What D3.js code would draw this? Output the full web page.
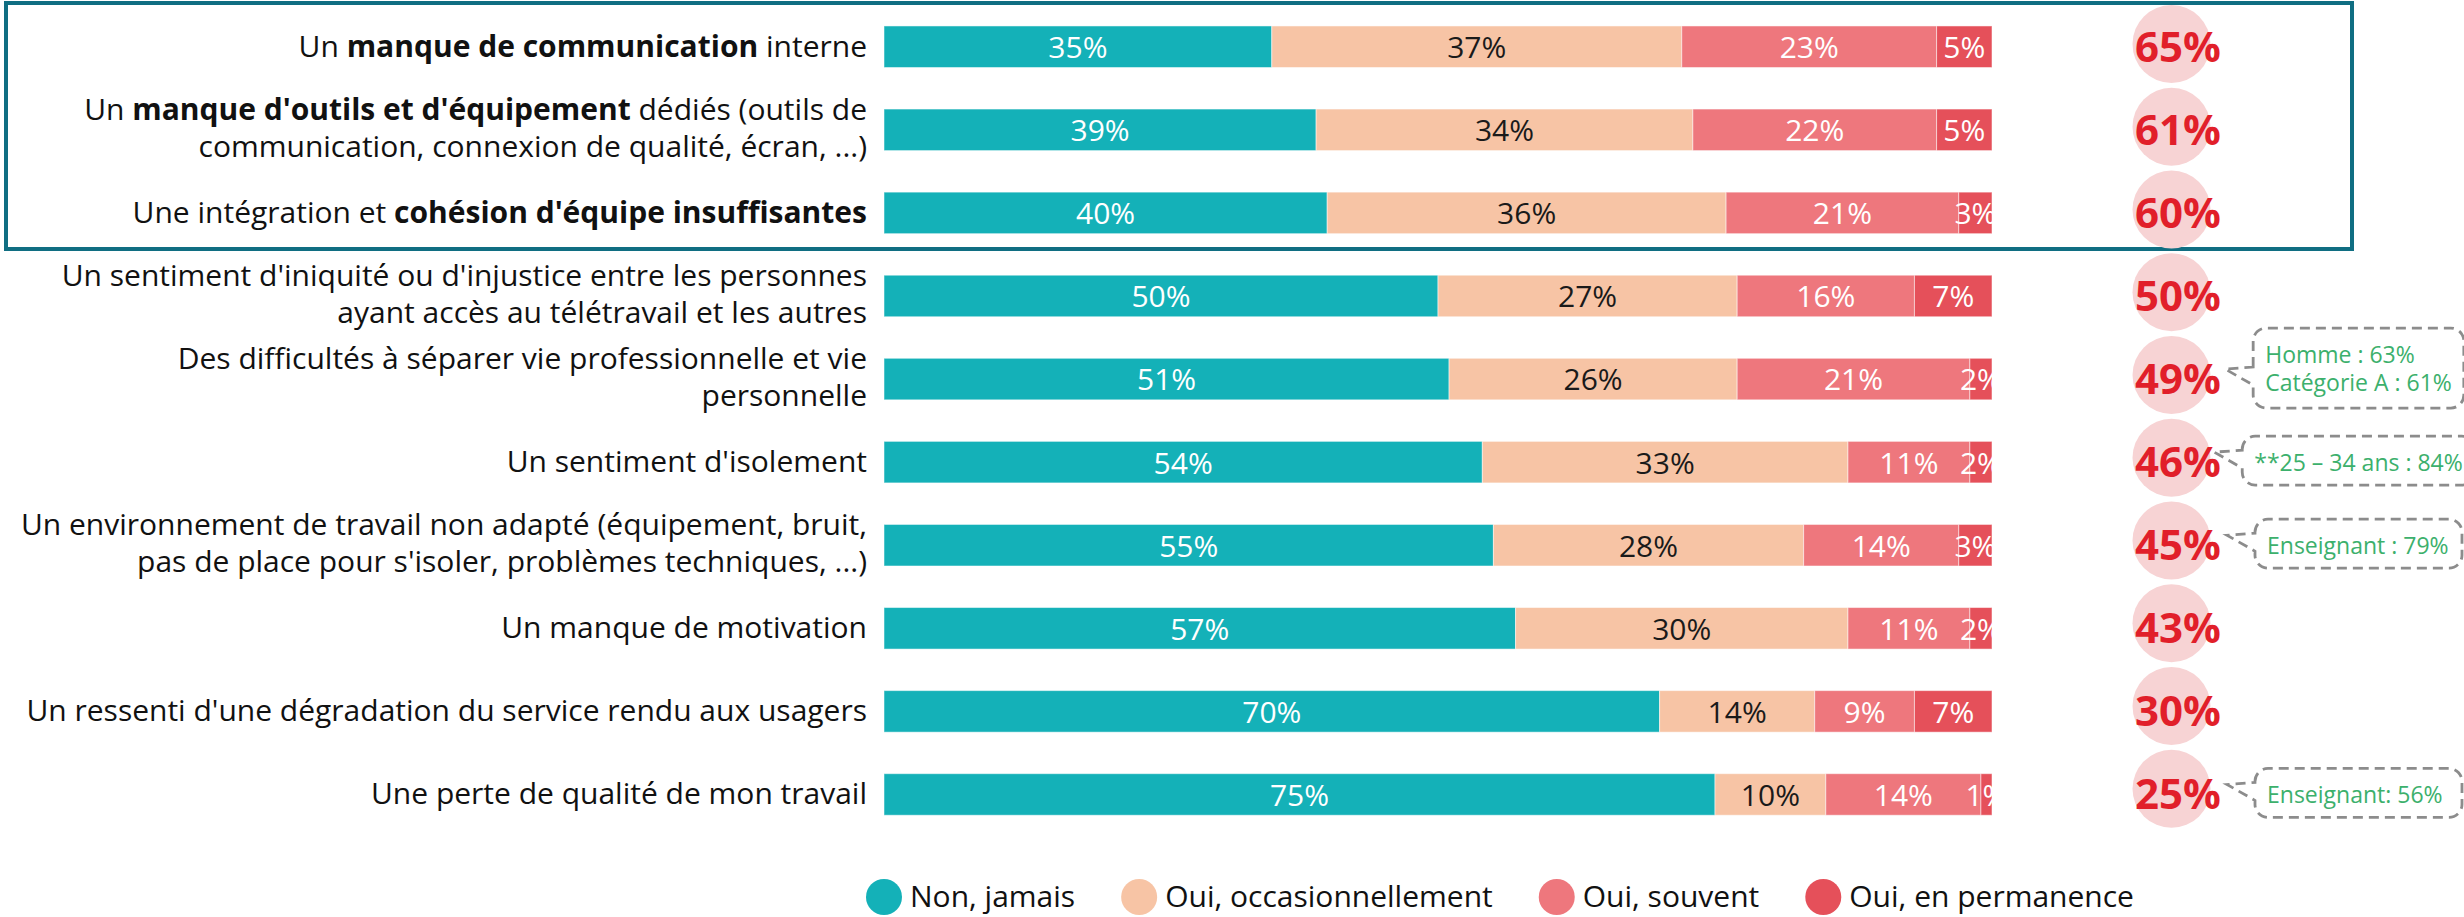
<!DOCTYPE html>
<html>
<head>
<meta charset="utf-8">
<script src="https://cdn.jsdelivr.net/npm/d3@7"></script>
<style>
  body { margin: 0; background: #fff; }
  svg { display: block; font-family: "Open Sans", "Noto Sans", sans-serif; }
</style>
</head>
<body>
<script>
// ---------- data ----------
// "**" marks bold parts, "\n" splits lines
var categories = [
  "Un **manque de communication** interne",
  "Un **manque d'outils et d'équipement** dédiés (outils de\ncommunication, connexion de qualité, écran, ...)",
  "Une intégration et **cohésion d'équipe insuffisantes**",
  "Un sentiment d'iniquité ou d'injustice entre les personnes\nayant accès au télétravail et les autres",
  "Des difficultés à séparer vie professionnelle et vie\npersonnelle",
  "Un sentiment d'isolement",
  "Un environnement de travail non adapté (équipement, bruit,\npas de place pour s'isoler, problèmes techniques, ...)",
  "Un manque de motivation",
  "Un ressenti d'une dégradation du service rendu aux usagers",
  "Une perte de qualité de mon travail"
]
var nonJamais         = [35, 39, 40, 50, 51, 54, 55, 57, 70, 75]
var occasionnellement = [37, 34, 36, 27, 26, 33, 28, 30, 14, 10]
var souvent           = [23, 22, 21, 16, 21, 11, 14, 11,  9, 14]
var permanence        = [ 5,  5,  3,  7,  2,  2,  3,  2,  7,  1]
var totalOui          = [65, 61, 60, 50, 49, 46, 45, 43, 30, 25]

var seriesKeys  = ["non", "occ", "souv", "perm"]
var seriesNames = ["Non, jamais", "Oui, occasionnellement", "Oui, souvent", "Oui, en permanence"]

// side notes (row index -> lines)
var calloutRows  = [4, 5, 6, 9]
var calloutTexts = [
  ["Homme : 63%", "Catégorie A : 61%"],
  ["**25 – 34 ans : 84%"],
  ["Enseignant : 79%"],
  ["Enseignant: 56%"]
]

// ---------- setup ----------
var width = 2464
var height = 917
var colors = ["#14b1b8", "#f7c4a5", "#ee777d", "#e5505a"]
var textColors = ["#ffffff", "#1a1a1a", "#ffffff", "#ffffff"]

var table = categories.map(function (c, i) {
  return { idx: i, non: nonJamais[i], occ: occasionnellement[i], souv: souvent[i], perm: permanence[i] }
})
var stacked = d3.stack().keys(seriesKeys)(table)

var x = d3.scaleLinear().domain([0, 100]).range([884, 1992])
var y = d3.scaleBand().domain(d3.range(categories.length)).range([5.2, 836])
          .paddingInner(0.5).paddingOuter(0.25)
var yCircle = d3.scalePoint().domain(d3.range(categories.length)).range([44, 788.8])
var color = d3.scaleOrdinal().domain(seriesKeys).range(colors)
var labelColor = d3.scaleOrdinal().domain(seriesKeys).range(textColors)

function mid(i) { return y(i) + y.bandwidth() / 2 }

var svg = d3.select('body').append('svg').attr('width', width).attr('height', height)

// frame around the first three rows
svg.append('rect').attr('x', 6).attr('y', 3).attr('width', 2346).attr('height', 246)
   .attr('fill', 'none').attr('stroke', '#106e82').attr('stroke-width', 4)

// ---------- bars ----------
var layers = svg.selectAll('g.layer').data(stacked).enter()
                .append('g').attr('class', 'layer').attr('fill', function (d) { return color(d.key) })

layers.selectAll('rect').data(function (d) { return d }).enter()
      .append('rect')
      .attr('x', function (d) { return x(d[0]) })
      .attr('y', function (d) { return y(d.data.idx) })
      .attr('width', function (d) { return x(d[1]) - x(d[0]) })
      .attr('height', y.bandwidth())
      .attr('stroke', '#ffffff').attr('stroke-opacity', 0.5).attr('stroke-width', 1)

svg.append('clipPath').attr('id', 'barclip').append('rect')
   .attr('x', x(0)).attr('y', 0).attr('width', x(100) - x(0)).attr('height', height)

var barLabels = svg.append('g').attr('clip-path', 'url(#barclip)')
stacked.forEach(function (layer) {
  barLabels.selectAll(null).data(layer).enter()
    .append('text')
    .attr('x', function (d) { return (x(d[0]) + x(d[1])) / 2 })
    .attr('y', function (d) { return mid(d.data.idx) })
    .attr('dy', '0.38em')
    .attr('text-anchor', 'middle')
    .attr('font-size', 30).attr('font-weight', 400)
    .attr('fill', labelColor(layer.key))
    .text(function (d) { return (d[1] - d[0]) + '%' })
})

// ---------- category labels ----------
function addRich(textSel, str) {
  str.split('**').forEach(function (part, k) {
    if (!part) return
    textSel.append('tspan').attr('font-weight', k % 2 ? 700 : 400).text(part)
  })
}

categories.forEach(function (cat, i) {
  var lines = cat.split('\n')
  var c = mid(i)
  lines.forEach(function (line, j) {
    var yy = lines.length === 1 ? c + 10 : c - 10 + j * 37
    var t = svg.append('text').attr('x', 867).attr('y', yy)
               .attr('text-anchor', 'end').attr('font-size', 30).attr('fill', '#111')
    addRich(t, line)
  })
})

// ---------- total circles ----------
svg.selectAll('circle.tot').data(totalOui).enter()
   .append('circle').attr('class', 'tot')
   .attr('cx', 2171.5).attr('cy', function (d, i) { return yCircle(i) })
   .attr('r', 39).attr('fill', '#f7d3d4')

svg.selectAll('text.tot').data(totalOui).enter()
   .append('text').attr('class', 'tot')
   .attr('x', 2178).attr('y', function (d, i) { return mid(i) + 15 })
   .attr('text-anchor', 'middle').attr('font-size', 42).attr('font-weight', 700)
   .attr('fill', '#e11f2a')
   .text(function (d) { return d + '%' })

// ---------- callouts ----------
calloutRows.forEach(function (row, k) {
  var lines = calloutTexts[k]
  var c = mid(row)
  var g = svg.append('g')
  var texts = lines.map(function (l, j) {
    return g.append('text').attr('font-size', 23).attr('fill', '#3cb06c').text(l)
  })
  var tw = d3.max(texts, function (t) { return t.node().getComputedTextLength() })
  var w = Math.max(207, tw + 24)
  var L = 2255 - (w - 207) / 2
  var R = L + w
  var h = 18 + 31 * lines.length
  var T = lines.length > 1 ? c - 51 : c - 26
  var B = T + h
  var r = 13
  texts.forEach(function (t, j) {
    t.attr('x', L + 12).attr('y', T + 35 + j * 28)
  })
  var tipX = L - 28, tipY = c - 10
  var p = d3.path()
  p.moveTo(L, c - 12)
  p.lineTo(L, T + r); p.arcTo(L, T, L + r, T, r)
  p.lineTo(R - r, T); p.arcTo(R, T, R, T + r, r)
  p.lineTo(R, B - r); p.arcTo(R, B, R - r, B, r)
  p.lineTo(L + r, B); p.arcTo(L, B, L, B - r, r)
  p.lineTo(L, c + 6)
  p.lineTo(tipX, tipY)
  p.closePath()
  g.insert('path', 'text').attr('d', p.toString()).attr('fill', 'none')
   .attr('stroke', '#8c8c8c').attr('stroke-width', 2.8).attr('stroke-dasharray', '10 6')
})

// ---------- legend ----------
var legend = svg.append('g')
var cx = 884
seriesNames.forEach(function (name, i) {
  legend.append('circle').attr('cx', cx).attr('cy', 897).attr('r', 18).attr('fill', colors[i])
  var t = legend.append('text').attr('x', cx + 26).attr('y', 907)
                .attr('font-size', 30).attr('fill', '#111').text(name)
  cx = cx + 26 + t.node().getComputedTextLength() + 46 + 18
})
</script>
</body>
</html>
